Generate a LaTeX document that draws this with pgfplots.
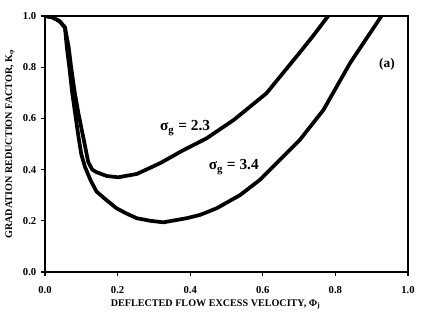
\documentclass[border=0pt]{standalone}
\usepackage{fontspec}
\setmainfont{Liberation Serif}
\usepackage{pgfplots}
\pgfplotsset{compat=1.18}
\begin{document}
\begin{tikzpicture}
\useasboundingbox (0,0) rectangle (324.75pt,243pt);
\begin{axis}[
  at={(33.75pt,39pt)}, anchor=south west,
  scale only axis, width=272.25pt, height=192pt,
  xmin=0, xmax=1, ymin=0, ymax=1,
  xtick={0,0.2,...,1.0}, ytick={0,0.2,...,1.0},
  xtick pos=bottom, ytick pos=left, tick align=outside,
  major tick length=3pt,
  axis line style={line width=0.8pt},
  every tick/.style={black, line width=0.8pt},
  /pgf/number format/assume math mode=true,
  /pgf/number format/fixed, /pgf/number format/fixed zerofill, /pgf/number format/precision=1,
  tick label style={font=\fontsize{8}{9}\selectfont\bfseries},
  xticklabel style={yshift=-4pt},
  xlabel={DEFLECTED FLOW EXCESS VELOCITY, Φ\textsubscript{j}},
  ylabel={GRADATION REDUCTION FACTOR, K\textsubscript{φ}},
  label style={font=\fontsize{7.6}{9}\selectfont\bfseries},
  xlabel style={at={(axis description cs:0.47,0)}, anchor=north, yshift=-17pt},
  ylabel style={at={(axis description cs:0,0.5)}, anchor=south, yshift=19pt},
]
\addplot[black, line width=2.8pt, line join=round, line cap=round] coordinates {
(0,1.0)(0.02,0.995)(0.04,0.98)(0.055,0.955)(0.065,0.88)(0.072,0.80)(0.082,0.70)(0.092,0.62)(0.102,0.55)(0.112,0.48)(0.119,0.43)(0.13,0.40)(0.142,0.39)(0.17,0.375)(0.202,0.37)(0.253,0.383)(0.317,0.425)(0.38,0.475)(0.445,0.522)(0.52,0.594)(0.61,0.698)(0.70,0.854)(0.74,0.925)(0.78,1.0)
};
\addplot[black, line width=2.8pt, line join=round, line cap=round] coordinates {
(0,1.0)(0.02,0.995)(0.04,0.98)(0.055,0.955)(0.06,0.88)(0.067,0.80)(0.075,0.70)(0.083,0.62)(0.092,0.53)(0.10,0.46)(0.11,0.411)(0.125,0.36)(0.142,0.314)(0.17,0.28)(0.197,0.249)(0.225,0.228)(0.253,0.21)(0.29,0.20)(0.326,0.194)(0.39,0.21)(0.427,0.223)(0.473,0.249)(0.537,0.30)(0.592,0.36)(0.647,0.4375)(0.702,0.516)(0.767,0.633)(0.84,0.815)(0.927,1.0)
};
\node[font=\fontsize{11.5}{13}\selectfont\bfseries] at (axis cs:0.386,0.5625) {σ\textsubscript{g} = 2.3};
\node[font=\fontsize{11.5}{13}\selectfont\bfseries] at (axis cs:0.52,0.41) {σ\textsubscript{g} = 3.4};
\node[font=\fontsize{10}{12}\selectfont\bfseries] at (axis cs:0.942,0.81) {(a)};
\end{axis}
\end{tikzpicture}
\end{document}
